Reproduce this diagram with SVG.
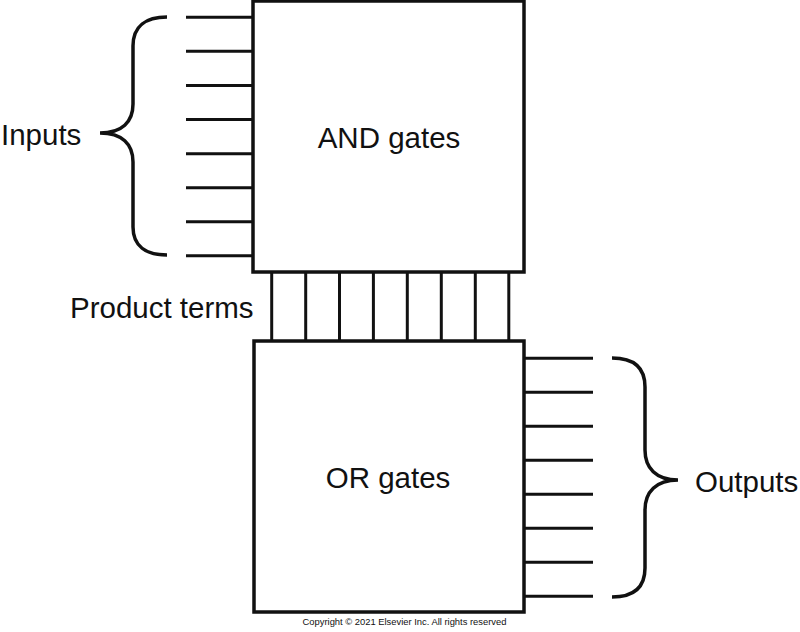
<svg xmlns="http://www.w3.org/2000/svg" width="800" height="632" viewBox="0 0 800 632">
<style>
.box{fill:#fff;stroke:#111;stroke-width:3.5}
.w{stroke:#111;stroke-width:3;fill:none}
.br{stroke:#111;stroke-width:3.5;fill:none;stroke-linecap:butt}
.t{font-family:"Liberation Sans",Arial,sans-serif;font-size:29.5px;fill:#111}
.c{font-family:"Liberation Sans",Arial,sans-serif;font-size:9.4px;fill:#111}
</style>
<rect width="800" height="632" fill="#fff"/>
<g id="connectors">
<g id="inputs-wires">
<line class="w" x1="186" y1="17.3" x2="253" y2="17.3"/>
<line class="w" x1="186" y1="51.3" x2="253" y2="51.3"/>
<line class="w" x1="186" y1="85.5" x2="253" y2="85.5"/>
<line class="w" x1="186" y1="119.5" x2="253" y2="119.5"/>
<line class="w" x1="186" y1="153.7" x2="253" y2="153.7"/>
<line class="w" x1="186" y1="187.7" x2="253" y2="187.7"/>
<line class="w" x1="186" y1="221.7" x2="253" y2="221.7"/>
<line class="w" x1="186" y1="255.7" x2="253" y2="255.7"/>
</g>
<g id="product-wires">
<line class="w" x1="271.7" y1="272" x2="271.7" y2="341"/>
<line class="w" x1="305.7" y1="272" x2="305.7" y2="341"/>
<line class="w" x1="339.5" y1="272" x2="339.5" y2="341"/>
<line class="w" x1="373.4" y1="272" x2="373.4" y2="341"/>
<line class="w" x1="407.3" y1="272" x2="407.3" y2="341"/>
<line class="w" x1="441.3" y1="272" x2="441.3" y2="341"/>
<line class="w" x1="475.3" y1="272" x2="475.3" y2="341"/>
<line class="w" x1="508.8" y1="272" x2="508.8" y2="341"/>
</g>
<g id="output-wires">
<line class="w" x1="524" y1="358.3" x2="593" y2="358.3"/>
<line class="w" x1="524" y1="392.3" x2="593" y2="392.3"/>
<line class="w" x1="524" y1="426.3" x2="593" y2="426.3"/>
<line class="w" x1="524" y1="460.2" x2="593" y2="460.2"/>
<line class="w" x1="524" y1="494.2" x2="593" y2="494.2"/>
<line class="w" x1="524" y1="528.2" x2="593" y2="528.2"/>
<line class="w" x1="524" y1="562.2" x2="593" y2="562.2"/>
<line class="w" x1="524" y1="596.2" x2="593" y2="596.2"/>
</g>
</g>
<g id="and-gates">
<rect class="box" x="253" y="1" width="271" height="271"/>
<text class="t" x="389" y="147.7" text-anchor="middle">AND gates</text>
</g>
<g id="or-gates">
<rect class="box" x="254" y="341" width="270" height="271"/>
<text class="t" x="388" y="487.7" text-anchor="middle">OR gates</text>
</g>
<g id="inputs-label">
<path class="br" d="M167,17 C146,17 133,26 133,46 L133,104 C133,122 122,133 100,133 C122,133 133,144 133,162 L133,227 C133,246 146,255 167,255"/>
<text class="t" x="1" y="145">Inputs</text>
</g>
<g id="product-label">
<text class="t" x="70" y="318.3">Product terms</text>
</g>
<g id="outputs-label">
<path class="br" d="M612,358 C633,358 645,367 645,387 L645,450 C645,468 656,480 678,480 C656,480 645,492 645,510 L645,568 C645,588 633,597 612,597"/>
<text class="t" x="695" y="491.7">Outputs</text>
</g>
<text class="c" x="404.5" y="625" text-anchor="middle">Copyright © 2021 Elsevier Inc. All rights reserved</text>
</svg>
